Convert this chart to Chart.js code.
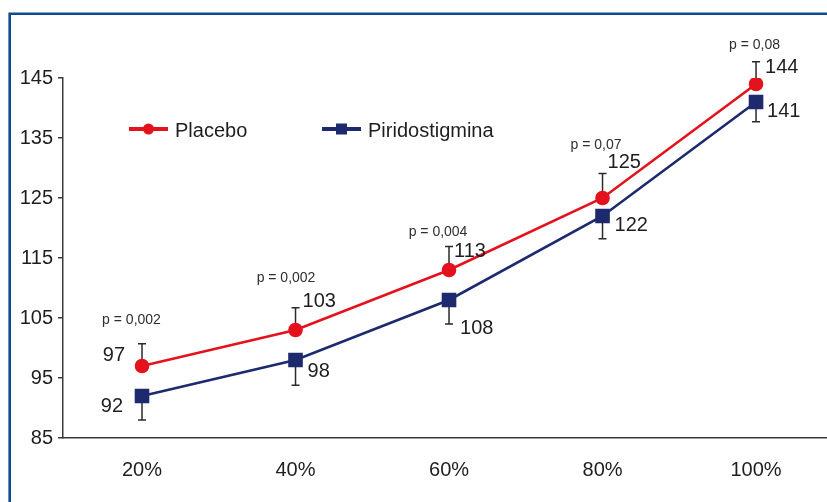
<!DOCTYPE html>
<html>
<head>
<meta charset="utf-8">
<script src="https://cdn.jsdelivr.net/npm/chart.js@4.4.1/dist/chart.umd.min.js"></script>
<style>
  html, body { margin: 0; padding: 0; background: #ffffff; }
  #wrap { width: 827px; height: 502px; position: relative; }
</style>
</head>
<body>
<div id="wrap"><canvas id="chart" width="827" height="502"></canvas></div>
<script>
// Exercise intensity levels
const categories = ['20%', '40%', '60%', '80%', '100%'];
// Mean values per group
const placebo = [97, 103, 113, 125, 144];
const piridostigmina = [92, 98, 108, 122, 141];
// Error bar lengths (placebo drawn upward, piridostigmina downward)
const placeboErr = [3.7, 3.7, 3.9, 4.1, 3.7];
const piridoErr = [4.0, 4.2, 4.0, 3.8, 3.3];
// Significance per intensity level
const pValues = ['p = 0,002', 'p = 0,002', 'p = 0,004', 'p = 0,07', 'p = 0,08'];
// Y axis ticks
const yTicks = [85, 95, 105, 115, 125, 135, 145];

const RED = '#e4121c';
const NAVY = '#1d2a6e';
const INK = '#1e1e1e';
const FONT = "'Liberation Sans', Arial, sans-serif";

// Label placement around each point: [dx, dy, align]
const placeboLabelPos = [[-17, -11, 'right'], [7, -29, 'left'], [5, -19, 'left'], [5, -36, 'left'], [9, -17, 'left']];
const piridoLabelPos = [[-19, 10, 'right'], [12, 11, 'left'], [11, 28, 'left'], [12, 9, 'left'], [11, 9, 'left']];
const pLabelPos = [[-10.5, -46], [-9.5, -52], [-11, -38], [-6.5, -53], [-1.5, -39]];

const toPoints = arr => arr.map((v, i) => ({ x: i + 1, y: v }));

const framePlugin = {
  id: 'frame',
  beforeDraw(chart) {
    const ctx = chart.ctx;
    ctx.save();
    ctx.fillStyle = '#ffffff';
    ctx.fillRect(0, 0, chart.width, chart.height);
    ctx.strokeStyle = '#0e4a8e';
    ctx.lineWidth = 2.6;
    ctx.beginPath();
    ctx.moveTo(9.7, chart.height);
    ctx.lineTo(9.7, 13.8);
    ctx.lineTo(chart.width, 13.8);
    ctx.stroke();
    ctx.restore();
  }
};

const errorBarPlugin = {
  id: 'errorBars',
  beforeDatasetsDraw(chart) {
    const ctx = chart.ctx;
    const xs = chart.scales.x, ys = chart.scales.y;
    ctx.save();
    ctx.strokeStyle = '#2a2a2a';
    ctx.lineWidth = 1.5;
    const draw = (vals, errs, dir) => {
      vals.forEach((v, i) => {
        const x = xs.getPixelForValue(i + 1);
        const y0 = ys.getPixelForValue(v);
        const y1 = ys.getPixelForValue(v + dir * errs[i]);
        ctx.beginPath();
        ctx.moveTo(x, y0);
        ctx.lineTo(x, y1);
        ctx.moveTo(x - 4, y1);
        ctx.lineTo(x + 4, y1);
        ctx.stroke();
      });
    };
    draw(placebo, placeboErr, 1);
    draw(piridostigmina, piridoErr, -1);
    ctx.restore();
  }
};

const labelPlugin = {
  id: 'valueLabels',
  afterDatasetsDraw(chart) {
    const ctx = chart.ctx;
    const xs = chart.scales.x, ys = chart.scales.y;
    ctx.save();
    ctx.textBaseline = 'middle';
    ctx.fillStyle = INK;
    ctx.font = '20px ' + FONT;
    const draw = (vals, pos) => {
      vals.forEach((v, i) => {
        const x = xs.getPixelForValue(i + 1);
        const y = ys.getPixelForValue(v);
        ctx.textAlign = pos[i][2];
        ctx.fillText(String(v), x + pos[i][0], y + pos[i][1]);
      });
    };
    draw(placebo, placeboLabelPos);
    draw(piridostigmina, piridoLabelPos);

    ctx.font = '14px ' + FONT;
    ctx.fillStyle = '#2e2e2e';
    ctx.textAlign = 'center';
    pValues.forEach((p, i) => {
      const x = xs.getPixelForValue(i + 1);
      const y = ys.getPixelForValue(placebo[i]);
      ctx.fillText(p, x + pLabelPos[i][0], y + pLabelPos[i][1]);
    });

    // Legend
    const ds = chart.data.datasets;
    const entries = [
      { x: 129, y: 129, ds: ds[0] },
      { x: 322, y: 129, ds: ds[1] }
    ];
    ctx.font = '20px ' + FONT;
    ctx.textAlign = 'left';
    entries.forEach(e => {
      ctx.strokeStyle = e.ds.borderColor;
      ctx.lineWidth = 4;
      ctx.beginPath();
      ctx.moveTo(e.x, e.y);
      ctx.lineTo(e.x + 39, e.y);
      ctx.stroke();
      ctx.fillStyle = e.ds.borderColor;
      if (e.ds.pointStyle === 'circle') {
        ctx.beginPath();
        ctx.arc(e.x + 19.5, e.y, 5.5, 0, Math.PI * 2);
        ctx.fill();
      } else {
        ctx.fillRect(e.x + 19.5 - 5.5, e.y - 5.5, 11, 11);
      }
      ctx.fillStyle = INK;
      ctx.fillText(e.ds.label, e.x + 46, e.y + 2);
    });
    ctx.restore();
  }
};

new Chart(document.getElementById('chart'), {
  type: 'line',
  data: {
    datasets: [
      {
        label: 'Placebo',
        data: toPoints(placebo),
        borderColor: RED,
        backgroundColor: RED,
        borderWidth: 2.6,
        pointStyle: 'circle',
        pointRadius: 6,
        pointHoverRadius: 6,
        tension: 0
      },
      {
        label: 'Piridostigmina',
        data: toPoints(piridostigmina),
        borderColor: NAVY,
        backgroundColor: NAVY,
        borderWidth: 2.6,
        pointStyle: 'rect',
        pointRadius: 8.5,
        pointHoverRadius: 8.5,
        tension: 0
      }
    ]
  },
  options: {
    responsive: false,
    animation: false,
    events: [],
    layout: { autoPadding: false, padding: { left: 0, top: 78, right: 0, bottom: 0 } },
    plugins: {
      legend: { display: false },
      tooltip: { enabled: false }
    },
    scales: {
      x: {
        type: 'linear',
        min: 0.4853,
        max: 5.4623,
        afterBuildTicks: s => { s.ticks = categories.map((c, i) => ({ value: i + 1 })); },
        afterFit: s => { s.height = 64; },
        grid: { display: false, drawTicks: false },
        border: { display: true, color: '#3a3a3a', width: 1.5 },
        ticks: {
          padding: 20,
          color: INK,
          font: { family: FONT, size: 20 },
          callback: v => categories[Math.round(v) - 1]
        }
      },
      y: {
        type: 'linear',
        min: 85,
        max: 145,
        afterBuildTicks: s => { s.ticks = yTicks.map(v => ({ value: v })); },
        afterFit: s => { s.width = 63; },
        grid: { drawOnChartArea: false, drawTicks: true, tickLength: 5, color: '#3a3a3a', lineWidth: 1.5 },
        border: { display: true, color: '#3a3a3a', width: 1.5 },
        ticks: {
          padding: 5,
          color: INK,
          font: { family: FONT, size: 20 },
          callback: v => String(v)
        }
      }
    }
  },
  plugins: [framePlugin, errorBarPlugin, labelPlugin]
});
</script>
</body>
</html>
